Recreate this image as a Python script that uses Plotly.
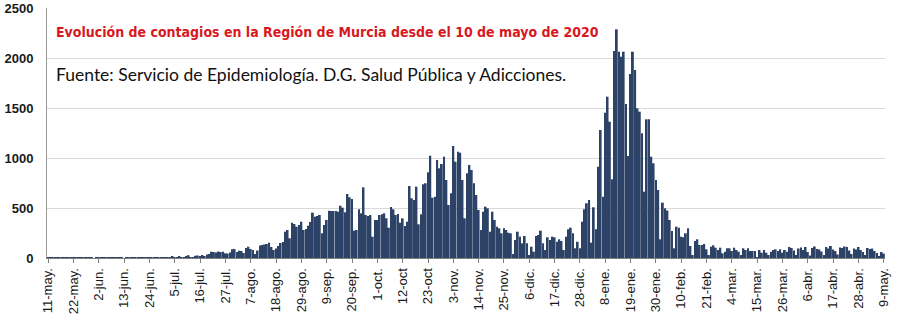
import pandas as pd
import plotly.graph_objects as go

# Daily new cases, 11-may-2020 .. 9-may-2021
casos_may_jul = [8, 5, 10, 7, 4, 3, 9, 6, 8, 5, 4,
                 7, 10, 6, 5, 3, 2, 8, 9, 6, 0,
                 4, 7, 5, 9, 6, 3, 2, 8, 6, 7,
                 5, 4, 0, 6, 8, 5, 7, 4, 3, 6,
                 9, 5, 8, 6, 2, 3, 7, 10, 8, 6,
                 9, 5, 4, 12, 10, 8, 11, 9, 7, 14,
                 28, 8, 10, 22, 25, 20, 30, 15, 35, 40]
casos_jul_sep = [63, 60, 55, 65, 60, 63, 47, 45, 55, 87,
                 90, 60, 73, 70, 50, 100, 113, 90, 80, 40,
                 75, 125, 130, 135, 140, 153, 110, 80, 95, 120,
                 150, 160, 263, 280, 197, 353, 340, 313, 330, 363,
                 280, 290, 323, 360, 453, 413, 420, 430, 247, 330,
                 380, 473, 470]
casos_sep_oct = [470, 470, 463, 523, 503, 457, 640, 607, 590, 273,
                 280, 487, 447, 707, 430, 420, 430, 213, 380, 380,
                 430, 437, 447, 397, 303, 510, 487, 430, 440, 353,
                 397, 320, 363, 720, 597, 580, 713, 337, 437, 737,
                 747, 857, 1023, 603, 613, 980, 897]
casos_oct_dic = [940, 1013, 780, 530, 647,
                 1120, 963, 1063, 1053, 780, 397, 847, 930, 880, 747,
                 630, 480, 280, 463, 513, 497, 263, 463, 380, 313,
                 297, 247, 297, 280, 253, 247, 40,
                 180, 263, 213, 147, 220, 147, 30, 113, 63, 220,
                 230, 273, 147, 80, 207, 180, 213, 207, 163, 187,
                 170, 80, 213]
casos_dic_ene = [287, 303, 247, 97, 163, 97, 363, 487, 547, 580,
                 153, 507, 287, 913, 1280, 613, 1453, 1613, 1363, 787,
                 2070, 2287, 2063, 2013, 2063, 1540, 1020, 1840, 2063, 1880,
                 1497, 1463, 1247, 663, 1387, 1387, 1013, 947, 780, 680,
                 187, 553, 497, 475, 380, 270]
casos_feb_mar = [97, 313, 303, 213, 207, 247, 297, 120, 30, 170,
                 187, 130, 130, 140, 87, 30, 113, 127, 103, 80,
                 103, 47, 63, 97, 97, 70, 103, 80, 63, 30,
                 97, 80, 97, 70, 70, 70, 7, 80, 53, 80,
                 53, 30, 63, 80, 87, 70, 87, 53]
casos_mar_may = [80, 63, 110, 100, 75, 30, 95, 105, 80, 110,
                 60, 25, 100, 115, 90, 85, 65, 30, 110, 95,
                 120, 85, 70, 35, 105, 100, 115, 110, 75, 40,
                 95, 85, 110, 80, 60, 30, 100, 90, 95, 70,
                 50, 20, 60, 45]

tick_labels = ["11-may.", "22-may.", "2-jun.", "13-jun.", "24-jun.", "5-jul.",
               "16-jul.", "27-jul.", "7-ago.", "18-ago.", "29-ago.", "9-sep.",
               "20-sep.", "1-oct.", "12-oct", "23-oct", "3-nov.", "14-nov.",
               "25-nov.", "6-dic.", "17-dic.", "28-dic.", "8-ene.", "19-ene.",
               "30-ene.", "10-feb.", "21-feb.", "4-mar.", "15-mar.", "26-mar.",
               "6-abr.", "17-abr.", "28-abr.", "9-may."]

casos = (casos_may_jul + casos_jul_sep + casos_sep_oct + casos_oct_dic
         + casos_dic_ene + casos_feb_mar + casos_mar_may)
fechas = pd.date_range("2020-05-11", periods=len(casos), freq="D")
tick_vals = list(fechas[::11])

fig = go.Figure()
fig.add_trace(go.Bar(x=fechas, y=casos, marker=dict(color="#2c4266", line=dict(width=0))))

W, H = 900, 326
L, R, T, B = 47, 15, 8, 68
pw, ph = W - L - R, H - T - B

def px(xp):
    return (xp - L) / pw

def py(yp):
    return (H - B - yp) / ph

fig.update_layout(
    width=W, height=H,
    margin=dict(l=L, r=R, t=T, b=B, autoexpand=False),
    paper_bgcolor="white", plot_bgcolor="white",
    bargap=0.2, showlegend=False,
    xaxis=dict(type="date", automargin=False,
               range=[fechas[0] - pd.Timedelta(hours=12), fechas[-1] + pd.Timedelta(hours=12)],
               tickmode="array", tickvals=tick_vals, ticktext=tick_labels,
               tickangle=-90, ticks="outside", ticklen=4, tickcolor="#808080",
               showline=True, linecolor="#808080", linewidth=1, showgrid=False,
               tickfont=dict(family="Liberation Sans, Arial", size=13, color="#1a1a1a")),
    yaxis=dict(range=[0, 2500], tickmode="linear", tick0=0, dtick=500, automargin=False,
               showgrid=True, gridcolor="#d9d9d9", gridwidth=1,
               showline=True, linecolor="#9a9a9a", linewidth=1, zeroline=False,
               ticks="", ticklabelstandoff=10,
               tickfont=dict(family="Liberation Sans, Arial", size=13, color="#1a1a1a", weight="bold")),
    annotations=[
        dict(text="Evolución de contagios en la Región de Murcia desde el 10 de mayo de 2020",
             xref="paper", yref="paper", x=px(54), y=py(32), xanchor="left", yanchor="middle",
             showarrow=False,
             font=dict(family="DejaVu Sans Condensed, Liberation Sans Narrow",
                       size=14, color="#d7191f", weight="bold")),
        dict(text="Fuente: Servicio de Epidemiología. D.G. Salud Pública y Adicciones.",
             xref="paper", yref="paper", x=px(54), y=py(74), xanchor="left", yanchor="middle",
             showarrow=False,
             font=dict(family="Lato, Open Sans", size=17.5, color="#111111")),
    ],
)

fig.write_html("out.html")
